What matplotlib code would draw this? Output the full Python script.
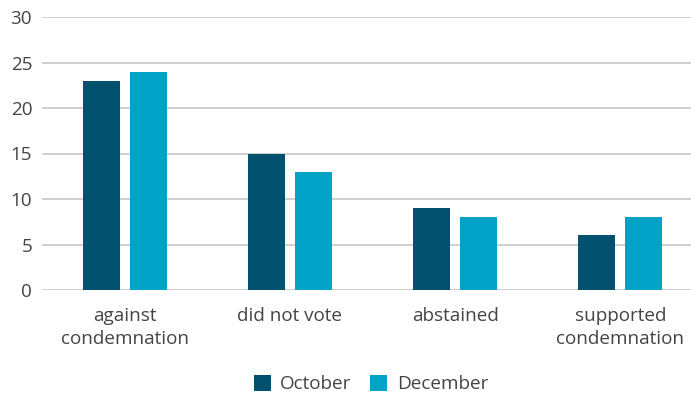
import matplotlib
matplotlib.use("Agg")
import matplotlib.pyplot as plt
import numpy as np

categories = ["against\ncondemnation", "did not vote", "abstained", "supported\ncondemnation"]
october = [23, 15, 9, 6]
december = [24, 13, 8, 8]
yticks = [0, 5, 10, 15, 20, 25, 30]

plt.rcParams['font.family'] = ['Open Sans', 'DejaVu Sans']
W, H = 691, 394
fig = plt.figure(figsize=(W/100, H/100), dpi=100)
left = 42 / W
right = (42 + 661) / W
bottom = 1 - 290 / H
top = 1 - 17 / H
ax = fig.add_axes([left, bottom, right - left, top - bottom])

x = np.arange(len(categories))
bw = 0.224
off = 0.142
c1 = "#02526f"
c2 = "#00a3c6"
ax.bar(x - off, october, bw, color=c1, label="October", zorder=3)
ax.bar(x + off, december, bw, color=c2, label="December", zorder=3)

ax.set_xlim(-0.5, 3.5)
ax.set_ylim(0, 30)
ax.set_yticks(yticks)
ax.yaxis.grid(True, color="#c8c8c8", linewidth=1.2, zorder=0)
ax.set_axisbelow(True)
for s in ax.spines.values():
    s.set_visible(False)
fs = 13.6
ax.tick_params(axis='y', length=0, pad=7, labelsize=fs, labelcolor="#444444")
ax.tick_params(axis='x', length=0, pad=12, labelsize=fs, labelcolor="#444444")
ax.set_xticks(x)
ax.set_xticklabels(categories, linespacing=1.4)
for lbl in ax.get_yticklabels():
    lbl.set_horizontalalignment('right')

leg = fig.legend(loc='center', bbox_to_anchor=(371 / W, 1 - 384 / H), ncol=2, frameon=False,
                 fontsize=fs, handlelength=0.9, handleheight=0.9, handletextpad=0.5,
                 columnspacing=1.0, labelcolor="#444444")

fig.savefig("out.png", dpi=100)
